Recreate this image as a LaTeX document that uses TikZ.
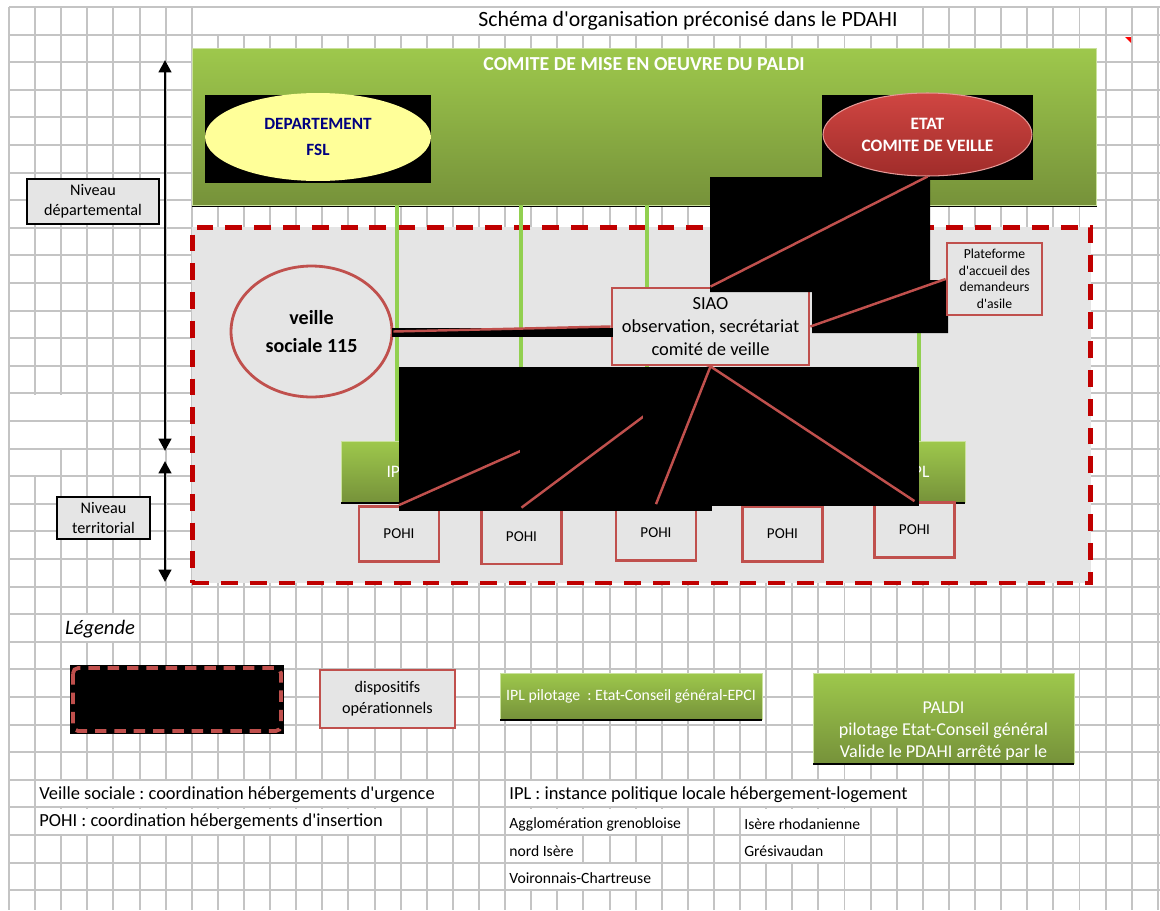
\documentclass[tikz,border=0pt]{standalone}
\usepackage{fontspec}
\setmainfont{Carlito}[Ligatures=TeXOff]
\usetikzlibrary{positioning,arrows.meta,shapes.geometric}
\definecolor{gridgray}{RGB}{196,196,196}
\definecolor{paneltop}{RGB}{158,200,76}
\definecolor{panelbot}{RGB}{118,146,58}
\definecolor{etattop}{RGB}{208,70,66}
\definecolor{etatbot}{RGB}{160,44,42}
\definecolor{brick}{RGB}{192,80,77}
\definecolor{dashred}{RGB}{192,0,0}
\definecolor{zonegray}{RGB}{229,229,229}
\definecolor{linkgreen}{RGB}{146,208,80}
\definecolor{paleyellow}{RGB}{255,255,153}
\definecolor{navyblue}{RGB}{0,0,128}
\frenchspacing

\begin{document}
\begin{tikzpicture}[
  x=0.02cm, y=-0.02cm,
  gridline/.style={gridgray, line width=1.1pt},
  greenbox/.style={rectangle, top color=paneltop, bottom color=panelbot,
    draw=paneltop!55!white, line width=0.5pt, text=white, inner sep=0pt, align=center},
  opbox/.style={rectangle, draw=brick, line width=1.6pt, fill=zonegray,
    inner sep=0pt, align=center},
  zonebox/.style={rectangle, draw=dashred, line width=2.8pt, fill=zonegray,
    dash pattern=on 9.6pt off 6.8pt, inner sep=0pt},
  lvlbox/.style={rectangle, draw=black, line width=0.7pt, fill=zonegray,
    inner sep=0pt, align=center, font=\fontsize{9.2}{11.3}\selectfont},
  redlink/.style={brick, line width=1.4pt},
  greenlink/.style={linkgreen, line width=1.8pt},
  lvlarrow/.style={<->, >={Triangle[width=7pt,length=7pt]}, line width=1.7pt},
  note/.style={anchor=west, inner sep=0pt},
]
  \useasboundingbox (0,0) rectangle (1160,910);
  \fill[white] (0,0) rectangle (1160,910);

  % === GRID ===
  \foreach \k in {0,...,44}
    \draw[gridline] ({9+26.11*\k},7) -- ({9+26.11*\k},910);
  \foreach \r in {0,...,32}
    \draw[gridline] (9,{7+27.6*\r}) -- (1160,{7+27.6*\r});
  % merged cells (first col/last col/row)
  \foreach \ka/\kb/\r in {7/35/0, 0/3/14, 0/3/15, 0/2/16, 2/5/22, 1/17/28, 19/35/28,
      1/15/29, 19/26/29, 28/33/29, 19/22/30, 28/32/30, 19/25/31}
    \fill[white] ({9+26.11*\ka+1.1},{7+27.6*\r+1.1}) rectangle ({9+26.11*\kb-1.1},{7+27.6*\r+26.5});
  \fill[red] (1125,37) -- (1131,37) -- (1131,43) -- cycle;

  \node[font=\fontsize{12.4}{14}\selectfont] (title) at (688,21)
    {Schéma d'organisation préconisé dans le PDAHI};

  % === DEPARTEMENTAL ===
  \fill[black] (192,50) rectangle (1097,207);
  \node[greenbox, minimum width=18.1cm, minimum height=3.14cm] (comite) at (644.5,126.5) {};
  \node[font=\bfseries\fontsize{11.3}{13}\selectfont, text=white] (comitetitle) at (644,64)
    {COMITE DE MISE EN OEUVRE DU PALDI};

  \fill[black] (205,95) rectangle (431,183);
  \fill[black] (822,95) rectangle (1033,180);
  \node[ellipse, fill=paleyellow, minimum width=4.52cm, minimum height=1.76cm, inner sep=0pt,
    text=navyblue, align=center, font=\bfseries\fontsize{9.8}{14.7}\selectfont]
    (dept) at (318,137) {DEPARTEMENT\\FSL};
  \node[ellipse, top color=etattop, bottom color=etatbot, draw=etattop!55!white, line width=0.6pt,
    minimum width=4.18cm, minimum height=1.66cm, inner sep=0pt, text=white, align=center,
    font=\bfseries\fontsize{9.9}{12.5}\selectfont]
    (etat) at (927.5,134.5) {ETAT\\COMITE DE VEILLE};

  % === TERRITORIAL ===
  \node[zonebox, minimum width=17.98cm, minimum height=7.12cm] (zone) at (641.5,405) {};

  % IPL
  \foreach \n/\x/\w in {1/397/2.24, 2/521/2.0, 3/647/2.0, 4/780/2.0, 5/919/1.84} {
    \node[greenbox, minimum width=\w cm, minimum height=1.22cm,
      font=\fontsize{10}{12}\selectfont] (ipl\n) at (\x,471.5) {IPL};
    \fill[black] (ipl\n.south west) rectangle ([yshift=-0.04cm]ipl\n.south east);
  }
  \foreach \n in {1,2,3,5}
    \draw[greenlink] (comite.south -| ipl\n.north) -- (ipl\n.north);

  % POHI
  \foreach \n/\x/\y in {1/399/534, 2/521.5/536.5, 3/656/533, 4/782.5/534, 5/914.5/530}
    \node[opbox, minimum width=1.6cm, minimum height=1.1cm,
      font=\fontsize{8.6}{10}\selectfont] (pohi\n) at (\x,\y) {POHI};

  \node[ellipse, draw=brick, line width=1.6pt, fill=zonegray, minimum width=3.22cm,
    minimum height=2.62cm, inner sep=0pt, align=center,
    font=\bfseries\fontsize{11.4}{16.4}\selectfont] (veille) at (311.5,331.5) {veille\\sociale 115};

  \node[opbox, minimum width=3.94cm, minimum height=1.54cm,
    font=\fontsize{10.5}{13.3}\selectfont] (siao) at (710.5,326.5)
    {SIAO\\observation, secrétariat\\comité de veille};

  \fill[black] (392,328) rectangle (613,337);
  \draw[redlink] (veille.east) -- (siao.west);

  \fill[black] (710,177) -- (930,177) -- (930,280) -- (948,280) -- (948,333)
    -- (812,333) -- (812,292) -- (710,292) -- cycle;

  \node[opbox, minimum width=1.9cm, minimum height=1.44cm,
    font=\fontsize{7.8}{9.4}\selectfont] (plat) at (994.5,279)
    {Plateforme\\d'accueil des\\demandeurs\\d'asile};

  \draw[redlink] (etat.south) -- (siao.north);
  \draw[redlink] (siao.east) -- (plat.west);

  % lower masked area
  \fill[black] (399,367) rectangle (919,506);
  \fill[black] (399,506) rectangle (712,511);
  \draw[redlink] (siao.south) -- (pohi1.north);
  \fill[black] (520,367) rectangle (712,511);
  \draw[redlink] (siao.south) -- (pohi2.north);
  \fill[black] (643,367) rectangle (919,506);
  \draw[redlink] (siao.south) -- (pohi3.north);
  \draw[redlink] (siao.south) -- (pohi5.north);

  % === LEVELS ===
  \coordinate (deptop) at (165,60);
  \coordinate (depbot) at (165,451);
  \coordinate (tertop) at (165,461);
  \coordinate (terbot) at (165,582);
  \draw[lvlarrow] (deptop) -- (depbot);
  \draw[lvlarrow] (tertop) -- (terbot);
  \node[lvlbox, minimum width=2.64cm, minimum height=0.9cm] (nivdep) at (93,201.5)
    {Niveau\\départemental};
  \node[lvlbox, minimum width=1.86cm, minimum height=0.84cm] (nivter) at (103.5,518)
    {Niveau\\territorial};

  % === LEGEND ===
  \node[font=\itshape\fontsize{11.7}{14}\selectfont] (legtitle) at (100,629) {Légende};
  \fill[black] (70,665) rectangle (284,734);
  \draw[brick, line width=2.2pt, dash pattern=on 6.5pt off 4.5pt, rounded corners=3pt]
    (73,668) rectangle (281,731);
  \node[opbox, minimum width=2.7cm, minimum height=1.16cm,
    font=\fontsize{9.2}{11.9}\selectfont] (legop) at (387.5,699) {dispositifs\\opérationnels};
  \node[greenbox, minimum width=5.24cm, minimum height=0.92cm,
    font=\fontsize{9}{11}\selectfont] (legipl) at (631,696)
    {IPL pilotage~~: Etat-Conseil général-EPCI};
  \fill[black] (legipl.south west) rectangle ([yshift=-0.04cm]legipl.south east);
  \node[greenbox, minimum width=5.22cm, minimum height=1.8cm] (legpaldi) at (943.5,718) {};
  \fill[black] (legpaldi.south west) rectangle ([yshift=-0.04cm]legpaldi.south east);
  \node[text=white, align=center, font=\fontsize{10.3}{12.5}\selectfont] (legpalditxt)
    at (943.5,731) {PALDI\\pilotage Etat-Conseil général\\Valide le PDAHI arrêté par le};

  \node[note, font=\fontsize{10.5}{12}\selectfont] (vsnote) at (39,795)
    {Veille sociale : coordination hébergements d'urgence};
  \node[note, font=\fontsize{10.5}{12}\selectfont] (pohinote) at (39,822)
    {POHI : coordination hébergements d'insertion};
  \node[note, font=\fontsize{10.5}{12}\selectfont] (iplnote) at (509,795)
    {IPL : instance politique locale hébergement-logement};
  \node[note, font=\fontsize{8.9}{10}\selectfont] (agglo) at (509,824) {Agglomération grenobloise};
  \node[note, font=\fontsize{8.9}{10}\selectfont] (rhod) at (744,824) {Isère rhodanienne};
  \node[note, font=\fontsize{8.9}{10}\selectfont] (nord) at (509,851) {nord Isère};
  \node[note, font=\fontsize{8.9}{10}\selectfont] (gresi) at (744,851) {Grésivaudan};
  \node[note, font=\fontsize{8.9}{10}\selectfont] (voiron) at (509,878) {Voironnais-Chartreuse};
\end{tikzpicture}
\end{document}
